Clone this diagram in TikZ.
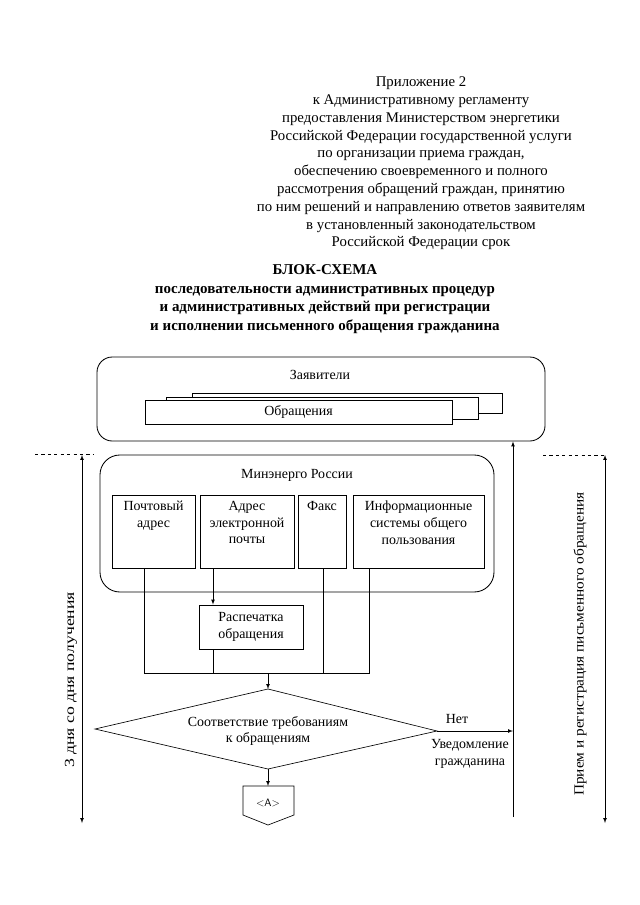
\documentclass[tikz,border=0pt]{standalone}
\usepackage{fontspec}
\setmainfont{Liberation Serif}
\usetikzlibrary{positioning}

\newcommand{\pxl}{0.328125mm}

\tikzset{
    blk/.style={draw, thick, rectangle, inner sep=0pt},
    rblk/.style={draw, thick, rectangle, inner sep=0pt},
    ln/.style={semithick},
    arr/.style={semithick, -latex},
    txt/.style={font=\fontsize{13}{15.8}\selectfont, align=center, inner sep=0pt}
}

\begin{document}
\begin{tikzpicture}[x=\pxl, y=-\pxl]
    \useasboundingbox (0,0) rectangle (640,905);

    % header
    \node[txt, font=\fontsize{13.8}{16.6}\selectfont] (head) at (421,163.5)
        {Приложение 2\\
         к Административному регламенту\\
         предоставления Министерством энергетики\\
         Российской Федерации государственной услуги\\
         по организации приема граждан,\\
         обеспечению своевременного и полного\\
         рассмотрения обращений граждан, принятию\\
         по ним решений и направлению ответов заявителям\\
         в установленный законодательством\\
         Российской Федерации срок};

    \node[txt, font=\bfseries\fontsize{14}{17.4}\selectfont] (title) at (325,299)
        {БЛОК-СХЕМА\\
         последовательности административных процедур\\
         и административных действий при регистрации\\
         и исполнении письменного обращения гражданина};

    % applicants
    \node[rblk, rounded corners=5mm, minimum width=448*\pxl, minimum height=84*\pxl] (zayav) at (321,399) {};
    \node[txt] (zt) at (320,375) {Заявители};
    \node[blk, fill=white, minimum width=310*\pxl, minimum height=20*\pxl] (obr3) at (347,403) {};
    \node[blk, fill=white, minimum width=312*\pxl, minimum height=22*\pxl] (obr2) at (322,408) {};
    \node[blk, fill=white, minimum width=307*\pxl, minimum height=24*\pxl] (obr) at (298.5,412) {};
    \node[txt] (ot) at (obr) {Обращения};

    % ministry
    \node[rblk, rounded corners=6.5mm, minimum width=394*\pxl, minimum height=137*\pxl] (min) at (297,523.5) {};
    \node[txt] (mt) at (297,475) {Минэнерго России};

    \node[blk, minimum width=83*\pxl, minimum height=73*\pxl] (post) at (153.5,531.5) {};
    \node[txt, anchor=north] at ([yshift=-2mm]post.north) {Почтовый\\адрес};
    \node[blk, minimum width=94*\pxl, minimum height=73*\pxl] (email) at (247,531.5) {};
    \node[txt, anchor=north] at ([yshift=-2mm]email.north) {Адрес\\электронной\\почты};
    \node[blk, minimum width=48*\pxl, minimum height=73*\pxl] (fax) at (322,531.5) {};
    \node[txt, anchor=north] at ([yshift=-2mm]fax.north) {Факс};
    \node[blk, minimum width=131*\pxl, minimum height=73*\pxl] (info) at (418.5,531.5) {};
    \node[txt, anchor=north] at ([yshift=-2mm]info.north) {Информационные\\системы общего\\пользования};

    \node[blk, txt, draw, thick, minimum width=104*\pxl, minimum height=44*\pxl] (print) at (251,627)
        {Распечатка\\обращения};

    % bus
    \coordinate (b1) at (144,673);
    \coordinate (b2) at (213,673);
    \coordinate (b3) at (323,673);
    \coordinate (b4) at (369,673);
    \coordinate (bc) at (268,673);
    \draw[ln] (post.south -| b1) -- (b1) -- (b4) -- (info.south -| b4);
    \draw[arr] (email.south -| b2) -- (print.north -| b2);
    \draw[ln] (print.south -| b2) -- (b2);
    \draw[ln] (fax.south -| b3) -- (b3);

    % check
    \coordinate (dt) at (268,689);
    \coordinate (dr) at (437,731);
    \coordinate (db) at (268,769);
    \coordinate (dl) at (95,729);
    \draw[ln] (dt) -- (dr) -- (db) -- (dl) -- cycle;
    \node[txt] (chk) at (268,731) {Соответствие требованиям\\к обращениям};
    \draw[arr] (bc) -- (dt);

    \coordinate (ny) at (513,731);
    \draw[arr] (dr) -- (ny);
    \node[txt] (no) at (457,719) {Нет};
    \node[txt] (notify) at (470,753.5) {Уведомление\\гражданина};

    \coordinate (up1) at (513,817);
    \draw[arr] (up1) -- (zayav.south -| up1);

    % connector A
    \coordinate (at) at (268,786);
    \draw[ln] (243,786) -- (294,786) -- (294,815) -- (268,825) -- (243,815) -- cycle;
    \node[txt, font=\sffamily\fontsize{10}{12}\selectfont] (A) at (268,803) {<A>};
    \draw[arr] (db) -- (at);

    % time lines
    \coordinate (l1) at (82,455);
    \coordinate (l2) at (82,823);
    \coordinate (r1) at (605,455);
    \coordinate (r2) at (605,823);
    \draw[ln, dashed] (35,454) -- (93,454);
    \draw[ln, dashed] (543,455) -- (605,455);
    \draw[semithick, latex-latex] (l1) -- (l2);
    \draw[semithick, latex-latex] (r1) -- (r2);
    \node[txt, rotate=90] (days) at (71,680) {\scalebox{1.27}[1]{3 дня со дня получения}};
    \node[txt, rotate=90] (reg) at (580,644) {\scalebox{1.1}[1]{Прием и регистрация письменного обращения}};
\end{tikzpicture}
\end{document}
